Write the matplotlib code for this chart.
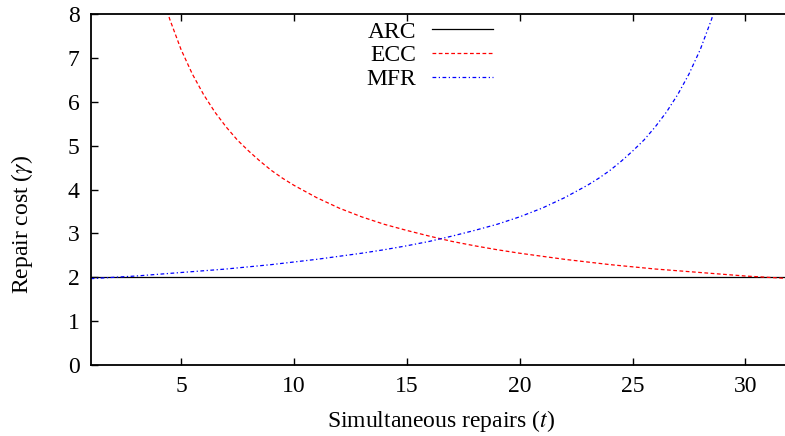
import matplotlib
matplotlib.use('Agg')
import matplotlib.pyplot as plt

# Values
arc_t = [1, 32]
arc_cost = [2.0, 2.0]

ecc_t = [4.0, 4.5, 5.0, 5.5, 6.0, 6.5, 7.0, 7.5, 8.0, 8.5, 9.0, 9.5, 10,
         11, 12, 13, 14, 15, 16, 17, 18, 19, 20, 21, 22, 23, 24, 25, 26,
         27, 28, 29, 30, 31, 32]
ecc_cost = [8.75, 7.89, 7.20, 6.64, 6.17, 5.77, 5.43, 5.13, 4.88, 4.65, 4.44,
            4.26, 4.10, 3.82, 3.58, 3.38, 3.21, 3.07, 2.94, 2.82, 2.72, 2.63,
            2.55, 2.48, 2.41, 2.35, 2.29, 2.24, 2.19, 2.15, 2.11, 2.07, 2.03,
            2.00, 1.97]

mfr_t = [1, 2, 3, 4, 5, 6, 7, 8, 9, 10, 11, 12, 13, 14, 15, 16, 17, 18, 19,
         20, 21, 22, 23, 23.5, 24, 24.5, 25, 25.5, 26, 26.5, 27, 27.5, 28,
         28.5, 29]
mfr_cost = [1.97, 2.00, 2.03, 2.07, 2.11, 2.15, 2.19, 2.24, 2.29, 2.35, 2.41,
            2.48, 2.55, 2.63, 2.72, 2.82, 2.94, 3.07, 3.21, 3.38, 3.58, 3.82,
            4.10, 4.26, 4.44, 4.65, 4.88, 5.13, 5.43, 5.77, 6.17, 6.64, 7.20,
            7.89, 8.75]

x_ticks = [5, 10, 15, 20, 25, 30]
y_ticks = [0, 1, 2, 3, 4, 5, 6, 7, 8]

plt.rcParams['font.family'] = ['Liberation Serif', 'DejaVu Serif']
plt.rcParams['mathtext.fontset'] = 'stix'

fig = plt.figure(figsize=(7.85, 4.36), dpi=100)
ax = fig.add_axes([0.1155, 0.1628, 0.8917, 0.8044])

ax.plot(arc_t, arc_cost, color='black', lw=0.9, label='ARC')
ax.plot(ecc_t, ecc_cost, color='red', lw=0.9, dashes=(3, 2), label='ECC')
ax.plot(mfr_t, mfr_cost, color='blue', lw=0.9, dashes=(3, 2, 1, 2), label='MFR')

ax.set_xlim(1, 32)
ax.set_ylim(0, 8)
ax.set_xticks(x_ticks)
ax.set_yticks(y_ticks)
ax.tick_params(direction='in', length=5, width=1, top=True, right=False,
               labelsize=17, pad=8)
for s in ax.spines.values():
    s.set_linewidth(1.3)

ax.set_xlabel('Simultaneous repairs ($t$)', fontsize=17, labelpad=8)
ax.set_ylabel(r'Repair cost ($\gamma$)', fontsize=17)
ax.yaxis.set_label_coords(-0.08, 0.40)

ax.legend(loc='upper right', bbox_to_anchor=(493 / 785, 1 - 21 / 436),
          bbox_transform=fig.transFigure, frameon=False,
          markerfirst=False, fontsize=17, handlelength=2.6, labelspacing=0.1,
          handletextpad=0.65, borderaxespad=0, borderpad=0)

fig.savefig('out.png', dpi=100)
